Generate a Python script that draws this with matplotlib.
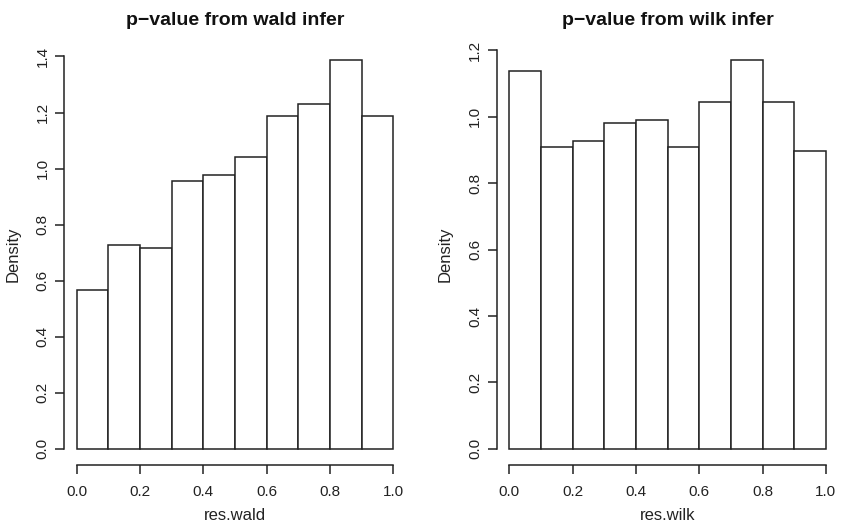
import matplotlib
matplotlib.use("Agg")
import matplotlib.pyplot as plt
from matplotlib.ticker import FormatStrFormatter

plt.rcParams['font.family'] = ['Liberation Sans', 'DejaVu Sans']

bin_edges = [0.0, 0.1, 0.2, 0.3, 0.4, 0.5, 0.6, 0.7, 0.8, 0.9, 1.0]
wald_density = [0.568, 0.728, 0.716, 0.957, 0.978, 1.042, 1.188, 1.232, 1.389, 1.188]
wilk_density = [1.139, 0.908, 0.928, 0.982, 0.991, 0.908, 1.043, 1.172, 1.043, 0.896]

titles = ["p\u2212value from wald infer", "p\u2212value from wilk infer"]
xlabels = ["res.wald", "res.wilk"]
xticks = [0.0, 0.2, 0.4, 0.6, 0.8, 1.0]
wald_yticks = [0.0, 0.2, 0.4, 0.6, 0.8, 1.0, 1.2, 1.4]
wilk_yticks = [0.0, 0.2, 0.4, 0.6, 0.8, 1.0, 1.2]

W, H = 842, 525
fig = plt.figure(figsize=(W / 100, H / 100), dpi=100)

axes_px = [(64, 406), (496.7, 838.6)]
top_px, bot_px = 44, 464.5

col = '#222222'
for (x0, x1), dens, title, xl, yt in zip(axes_px, [wald_density, wilk_density], titles, xlabels,
                                          [wald_yticks, wilk_yticks]):
    ax = fig.add_axes([x0 / W, 1 - bot_px / H, (x1 - x0) / W, (bot_px - top_px) / H])
    lefts = bin_edges[:-1]
    widths = [b - a for a, b in zip(bin_edges[:-1], bin_edges[1:])]
    ax.bar(lefts, dens, width=widths, align='edge', facecolor='white',
           edgecolor=col, linewidth=1.1)
    ymax = max(dens)
    ax.set_xlim(-0.04, 1.04)
    ax.set_ylim(-0.04 * ymax, ymax * 1.04)
    for s in ['top', 'right']:
        ax.spines[s].set_visible(False)
    ax.spines['left'].set_bounds(yt[0], yt[-1])
    ax.spines['bottom'].set_bounds(xticks[0], xticks[-1])
    for s in ['left', 'bottom']:
        ax.spines[s].set_color(col)
        ax.spines[s].set_linewidth(1.1)
    ax.set_xticks(xticks)
    ax.set_yticks(yt)
    ax.xaxis.set_major_formatter(FormatStrFormatter('%.1f'))
    ax.yaxis.set_major_formatter(FormatStrFormatter('%.1f'))
    ax.tick_params(axis='both', direction='out', length=6.5, width=1.1, color=col,
                   labelsize=11, labelcolor='#222222')
    ax.tick_params(axis='x', pad=8)
    ax.tick_params(axis='y', pad=4)
    for lab in ax.get_yticklabels():
        lab.set_rotation(90)
        lab.set_va('center')
    ax.set_title(title, fontsize=14, fontweight='bold', pad=14, color='#111111')
    ax.set_xlabel(xl, fontsize=12, labelpad=7, color='#222222')
    ax.set_ylabel("Density", fontsize=12, labelpad=11, color='#222222')

fig.savefig("out.png", dpi=100, facecolor='white')
